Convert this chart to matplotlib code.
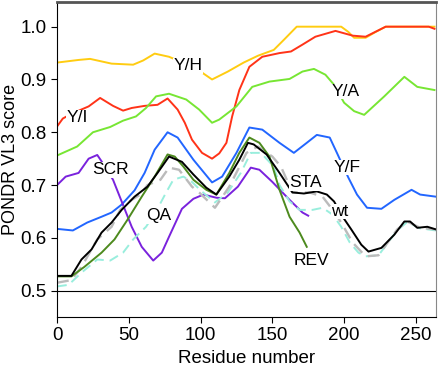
import matplotlib
matplotlib.use("Agg")
import matplotlib.pyplot as plt

plt.rcParams['font.family'] = ['Liberation Sans', 'DejaVu Sans']

# Y/H (yellow)
yh_x = [0, 15, 23, 38, 53, 60, 68, 78, 85, 92, 100, 108, 119, 130, 140, 151, 158, 167, 180, 198, 203, 207, 215, 222, 229, 263]
yh_y = [0.932, 0.937, 0.939, 0.930, 0.928, 0.936, 0.949, 0.943, 0.935, 0.925, 0.915, 0.900, 0.915, 0.932, 0.945, 0.956, 0.975, 1.0, 1.0, 1.0, 0.99, 0.979, 0.979, 0.99, 1.0, 1.0]

# Y/I (red)
yi_x = [0, 4, 10, 22, 30, 39, 46, 52, 61, 70, 77, 84, 89, 94, 101, 108, 113, 118, 122, 127, 134, 143, 155, 163, 171, 180, 194, 206, 215, 229, 259, 263]
yi_y = [0.811, 0.826, 0.835, 0.849, 0.865, 0.850, 0.841, 0.846, 0.850, 0.852, 0.864, 0.843, 0.818, 0.786, 0.761, 0.750, 0.760, 0.780, 0.830, 0.880, 0.924, 0.943, 0.950, 0.953, 0.966, 0.981, 0.992, 0.983, 0.981, 1.0, 1.0, 0.996]

# Y/A (light green)
ya_x = [0, 14, 25, 37, 46, 55, 62, 69, 78, 90, 99, 108, 113, 125, 136, 148, 162, 171, 179, 187, 193, 200, 207, 214, 228, 242, 251, 263]
ya_y = [0.756, 0.773, 0.800, 0.810, 0.822, 0.830, 0.846, 0.868, 0.873, 0.862, 0.843, 0.818, 0.824, 0.849, 0.886, 0.896, 0.901, 0.915, 0.920, 0.909, 0.890, 0.856, 0.840, 0.833, 0.868, 0.905, 0.886, 0.880]

# Y/F (blue)
yf_x = [0, 11, 21, 31, 38, 45, 54, 61, 68, 77, 84, 95, 108, 115, 125, 134, 143, 155, 165, 174, 181, 190, 195, 203, 209, 216, 226, 235, 247, 253, 264]
yf_y = [0.617, 0.614, 0.629, 0.640, 0.648, 0.663, 0.690, 0.723, 0.767, 0.800, 0.790, 0.748, 0.705, 0.716, 0.761, 0.809, 0.805, 0.780, 0.761, 0.780, 0.795, 0.790, 0.761, 0.714, 0.682, 0.657, 0.655, 0.672, 0.691, 0.682, 0.678]

# SCR (purple)
scr_x = [0, 6, 15, 22, 28, 31, 39, 45, 52, 59, 67, 73, 78, 87, 95, 102, 111, 117, 126, 135, 141, 150, 162, 171, 175]
scr_y = [0.700, 0.716, 0.723, 0.750, 0.757, 0.745, 0.710, 0.669, 0.621, 0.583, 0.557, 0.572, 0.602, 0.655, 0.674, 0.682, 0.676, 0.675, 0.697, 0.733, 0.729, 0.706, 0.672, 0.648, 0.642]

# wt (black)
wt_x = [0, 10, 17, 24, 31, 38, 45, 54, 63, 70, 78, 87, 95, 104, 111, 120, 127, 133, 137, 146, 155, 164, 172, 181, 188, 193, 199, 205, 212, 217, 226, 235, 242, 246, 251, 258, 264]
wt_y = [0.528, 0.528, 0.559, 0.578, 0.610, 0.629, 0.653, 0.678, 0.697, 0.723, 0.754, 0.744, 0.720, 0.695, 0.682, 0.716, 0.748, 0.780, 0.777, 0.758, 0.723, 0.686, 0.684, 0.688, 0.682, 0.669, 0.640, 0.616, 0.587, 0.574, 0.581, 0.606, 0.631, 0.631, 0.619, 0.621, 0.616]

# STA (grey dashed)
sta_x = [0, 10, 17, 28, 38, 44, 52, 58, 63, 72, 78, 85, 94, 99, 110, 120, 132, 140, 150, 156, 164, 176, 185, 192, 198, 206, 215, 224, 237, 244, 253, 264]
sta_y = [0.515, 0.520, 0.545, 0.597, 0.621, 0.653, 0.672, 0.682, 0.700, 0.710, 0.733, 0.729, 0.697, 0.686, 0.657, 0.697, 0.761, 0.773, 0.754, 0.735, 0.686, 0.686, 0.678, 0.653, 0.629, 0.591, 0.565, 0.567, 0.616, 0.631, 0.619, 0.616]

# QA (aquamarine dashed)
qa_x = [0, 8, 17, 28, 37, 46, 53, 62, 69, 76, 81, 88, 94, 100, 110, 119, 128, 135, 142, 151, 155, 162, 169, 178, 185, 192, 198, 204, 210, 215, 224, 237, 244, 253, 264]
qa_y = [0.508, 0.511, 0.534, 0.559, 0.557, 0.572, 0.597, 0.621, 0.650, 0.686, 0.710, 0.716, 0.706, 0.690, 0.667, 0.686, 0.723, 0.761, 0.761, 0.735, 0.700, 0.669, 0.653, 0.653, 0.657, 0.644, 0.621, 0.591, 0.572, 0.565, 0.567, 0.614, 0.630, 0.618, 0.614]

# REV (dark green)
rev_x = [0, 10, 19, 31, 40, 49, 59, 68, 77, 82, 88, 95, 104, 111, 120, 127, 134, 141, 148, 155, 162, 169, 174]
rev_y = [0.527, 0.527, 0.545, 0.572, 0.597, 0.634, 0.678, 0.716, 0.758, 0.754, 0.735, 0.710, 0.691, 0.682, 0.723, 0.761, 0.790, 0.780, 0.754, 0.691, 0.640, 0.610, 0.583]

labels = ['Y/H', 'Y/I', 'Y/A', 'Y/F', 'SCR', 'QA', 'STA', 'wt', 'REV']
label_x = [91, 14, 201, 202, 37, 71, 173, 197, 177]
label_y = [0.926, 0.828, 0.877, 0.733, 0.729, 0.642, 0.704, 0.650, 0.558]

fig = plt.figure(figsize=(4.39, 3.73), dpi=100)
ax = fig.add_axes([0.13, 0.15, 0.863, 0.845])

lw = 1.4
ax.axhline(0.5, color='black', lw=0.8)
ax.plot(yh_x, yh_y, color='#ffcc11', lw=lw)
ax.plot(yi_x, yi_y, color='#ff3318', lw=lw)
ax.plot(ya_x, ya_y, color='#77e633', lw=lw)
ax.plot(yf_x, yf_y, color='#2266ff', lw=lw)
ax.plot(scr_x, scr_y, color='#7a22dd', lw=lw)
ax.plot(qa_x, qa_y, color='#99eedd', lw=lw, dashes=(5, 3))
ax.plot(sta_x, sta_y, color='#bbbbbb', lw=lw + 0.3, dashes=(5, 3))
ax.plot(rev_x, rev_y, color='#4d8a1e', lw=lw)
ax.plot(wt_x, wt_y, color='black', lw=lw)

for t, x, y in zip(labels, label_x, label_y):
    ax.text(x, y, t, ha='center', va='center', fontsize=12.5,
            bbox=dict(facecolor='white', edgecolor='none', pad=0.3))

ax.set_xlim(0, 264)
ax.set_ylim(0.45, 1.047)
ax.set_xticks([0, 50, 100, 150, 200, 250])
ax.set_yticks([0.5, 0.6, 0.7, 0.8, 0.9, 1.0])
ax.set_yticklabels(['0.5', '0.6', '0.7', '0.8', '0.9', '1.0'])
ax.tick_params(labelsize=13.5, length=4, width=0.8, direction='out')
ax.set_xlabel('Residue number', fontsize=13.5)
ax.set_ylabel('PONDR VL3 score', fontsize=13, labelpad=1)
ax.spines['top'].set_color('#555555')
ax.spines['top'].set_linewidth(2)
ax.spines['right'].set_color('#888888')

fig.savefig('out.png', dpi=100)
